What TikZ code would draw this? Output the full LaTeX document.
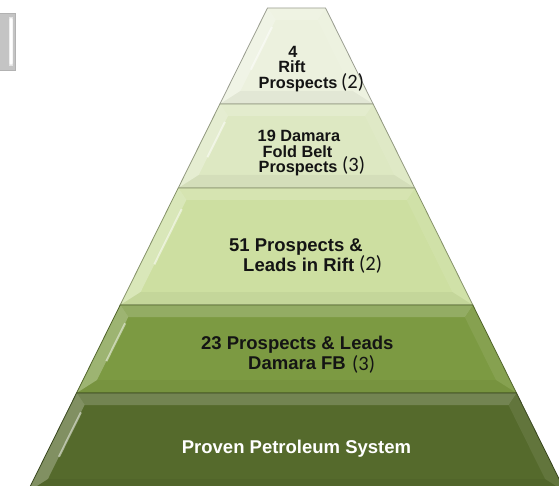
\documentclass[tikz,border=0pt]{standalone}
\usepackage{fontspec}
\setmainfont{Liberation Sans}
\newfontfamily\calib{Carlito}
\usetikzlibrary{calc}
\definecolor{tOne}{RGB}{236,241,222}
\definecolor{tTwo}{RGB}{221,232,194}
\definecolor{tThree}{RGB}{205,223,161}
\definecolor{tFour}{RGB}{124,154,66}
\definecolor{tFive}{RGB}{85,106,44}
\definecolor{grayframe}{RGB}{196,196,196}
\newcommand\hwAt[1]{(29+0.496*(#1-8))}
\newcommand\pyrtier[3]{%
  \pgfmathsetmacro\ta{296.5-\hwAt{#1}}%
  \pgfmathsetmacro\tb{296.5+\hwAt{#1}}%
  \pgfmathsetmacro\ba{296.5-\hwAt{#2}}%
  \pgfmathsetmacro\bb{296.5+\hwAt{#2}}%
  \pgfmathsetmacro\iyt{#1+12}%
  \pgfmathsetmacro\iyb{#2-13}%
  \pgfmathsetmacro\ita{296.5-\hwAt{\iyt}+14}%
  \pgfmathsetmacro\itb{296.5+\hwAt{\iyt}-14}%
  \pgfmathsetmacro\iba{296.5-\hwAt{\iyb}+14}%
  \pgfmathsetmacro\ibb{296.5+\hwAt{\iyb}-14}%
  \fill[#3] (\ta,#1) -- (\tb,#1) -- (\bb,#2) -- (\ba,#2) -- cycle;
  \fill[white,opacity=0.18] (\ta,#1) -- (\tb,#1) -- (\itb,\iyt) -- (\ita,\iyt) -- cycle;
  \fill[white,opacity=0.26] (\ta,#1) -- (\ita,\iyt) -- (\iba,\iyb) -- (\ba,#2) -- cycle;
  \draw[white,opacity=0.5,line width=2pt] ($(\ita,\iyt)!0.1!(\iba,\iyb)$) -- ($(\ita,\iyt)!0.7!(\iba,\iyb)$);
  \fill[white,opacity=0.08] (\tb,#1) -- (\itb,\iyt) -- (\ibb,\iyb) -- (\bb,#2) -- cycle;
  \fill[black,opacity=0.04] (\ba,#2) -- (\iba,\iyb) -- (\ibb,\iyb) -- (\bb,#2) -- cycle;
  \draw[#3!65!black,line width=0.8pt] (\ta,#1) -- (\tb,#1) -- (\bb,#2) -- (\ba,#2) -- cycle;
}
\tikzset{
  lbl/.style={inner sep=0pt,font=\fontsize{16.3}{16}\selectfont\bfseries,text=black!92},
  lblbig/.style={inner sep=0pt,font=\fontsize{18.5}{19.5}\selectfont\bfseries,text=black!92},
  num/.style={inner sep=0pt,font=\fontsize{20.5}{20}\selectfont\calib,text=black!92}
}
\begin{document}
\begin{tikzpicture}[x=1pt,y=-1pt]
\useasboundingbox (0,0) rectangle (559,486);
\begin{scope}
\clip (0,0) rectangle (559,486);
% partial gray frame at top left
\fill[grayframe] (0,13) rectangle (15,70);
\fill[black!10] (9,17) rectangle (13,66);
\fill[white,rounded corners=1.5pt] (9.5,18) rectangle (12.5,65);
\draw[black!30,line width=0.6pt] (0,13) -- (15,13) -- (15,70) -- (0,70);
% tiers
\pyrtier{8}{104}{tOne}
\pyrtier{104}{188}{tTwo}
\pyrtier{188}{305}{tThree}
\pyrtier{305}{393}{tFour}
\pyrtier{393}{492}{tFive}
\end{scope}
% texts tier 1
\node[lbl,anchor=base] (t1a) at (293,58) {4};
\node[lbl,anchor=base] (t1b) at (292,73) {Rift};
\node[lbl,anchor=base west] (t1c) at (258.5,89) {Prospects};
\node[num,anchor=base west] (t1n) at (341,89) {(2)};
% tier 2
\node[lbl,anchor=base west] (t2a) at (257.5,142) {19 Damara};
\node[lbl,anchor=base] (t2b) at (297.5,158) {Fold Belt};
\node[lbl,anchor=base west] (t2c) at (258.5,173) {Prospects};
\node[num,anchor=base west] (t2n) at (342,172) {(3)};
% tier 3
\node[lblbig,anchor=base west,align=left] (t3a) at (229,271) {51 Prospects \&\\\hspace*{14pt}Leads in Rift};
\node[num,anchor=base west] (t3n) at (359,270) {(2)};
% tier 4
\node[lblbig,anchor=base west,align=left] (t4a) at (201,369) {23 Prospects \& Leads\\\hspace*{47pt}Damara FB};
\node[num,anchor=base west] (t4n) at (352,370) {(3)};
% tier 5
\node[lblbig,anchor=base,text=white] (t5a) at (296.5,453) {Proven Petroleum System};
\end{tikzpicture}
\end{document}
